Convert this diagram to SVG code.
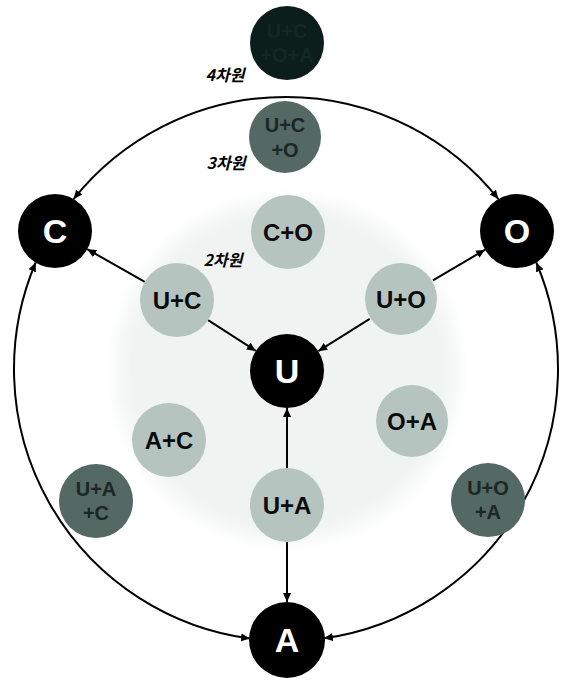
<svg xmlns="http://www.w3.org/2000/svg" width="568" height="680" viewBox="0 0 568 680">
  <defs>
    <radialGradient id="core" cx="287" cy="370" r="182" gradientUnits="userSpaceOnUse">
      <stop offset="0" stop-color="#f0f3f2"/>
      <stop offset="0.85" stop-color="#eff3f2"/>
      <stop offset="1" stop-color="#ffffff"/>
    </radialGradient>
    <marker id="arrow" viewBox="0 0 10 10" refX="10" refY="5" markerWidth="9" markerHeight="9" markerUnits="userSpaceOnUse" orient="auto-start-reverse">
      <path d="M0,0.5 L10,5 L0,9.5 Z" fill="#000"/>
    </marker>
    <style>
      .edge { fill: none; stroke: #000; stroke-width: 2; marker-end: url(#arrow); }
      .ring { fill: none; stroke: #000; stroke-width: 2; marker-start: url(#arrow); marker-end: url(#arrow); }
      .base { fill: #000; }
      .pair { fill: #b6c4c0; }
      .triple { fill: #546864; }
      .quad { fill: #0b1e1b; }
      .big { font-family: "Liberation Sans", Arial, sans-serif; font-weight: bold; font-size: 34px; fill: #fff; text-anchor: middle; }
      .lbl { font-family: "Liberation Sans", Arial, sans-serif; font-weight: bold; font-size: 24px; fill: #0a0a0a; text-anchor: middle; }
      .lbl3 { font-family: "Liberation Sans", Arial, sans-serif; font-weight: bold; font-size: 20px; fill: #1a2725; text-anchor: middle; }
      .lbl4 { font-family: "Liberation Sans", Arial, sans-serif; font-weight: bold; font-size: 20px; fill: #122824; text-anchor: middle; }
      .dim { font-family: "Noto Sans CJK KR", "Noto Sans", sans-serif; font-weight: bold; font-style: italic; font-size: 16px; fill: #000; text-anchor: middle; }
    </style>
  </defs>

  <rect width="568" height="680" fill="#ffffff"/>
  <!-- pale core region around U -->
  <circle cx="287" cy="370" r="182" fill="url(#core)"/>

  <!-- connectors -->
  <g id="connectors">
    <path class="ring" d="M73.6,199.1 A272,272 0 0 1 498.4,199.1"/>
    <path class="ring" d="M35.7,262.5 A272,272 0 0 0 250.0,638.6"/>
    <path class="ring" d="M536.3,262.5 A272,272 0 0 1 323.9,638.3"/>
    <line class="edge" x1="144.8" y1="281.8" x2="87.2" y2="249.2"/>
    <line class="edge" x1="208.1" y1="320.1" x2="255.9" y2="350.9"/>
    <line class="edge" x1="432.9" y1="280.3" x2="485.1" y2="249.7"/>
    <line class="edge" x1="369.7" y1="318.8" x2="318.3" y2="351.2"/>
    <line class="edge" x1="287" y1="468" x2="287" y2="408"/>
    <line class="edge" x1="287" y1="542" x2="287" y2="602"/>
  </g>

  <!-- dimension labels -->
  <text class="dim" x="225" y="81">4차원</text>
  <text class="dim" x="226" y="169">3차원</text>
  <text class="dim" x="223" y="266">2차원</text>

  <!-- 4D node -->
  <g id="node-ucoa">
    <circle class="quad" cx="287" cy="43" r="37"/>
    <text class="lbl4" x="287" y="38">U+C</text>
    <text class="lbl4" x="287" y="62">+O+A</text>
  </g>

  <!-- 3D nodes -->
  <g id="node-uco">
    <circle class="triple" cx="285" cy="137" r="36"/>
    <text class="lbl3" x="285" y="132">U+C</text>
    <text class="lbl3" x="285" y="157">+O</text>
  </g>
  <g id="node-uac">
    <circle class="triple" cx="96" cy="501" r="37"/>
    <text class="lbl3" x="96" y="496">U+A</text>
    <text class="lbl3" x="96" y="520">+C</text>
  </g>
  <g id="node-uoa">
    <circle class="triple" cx="488" cy="500" r="37"/>
    <text class="lbl3" x="488" y="495">U+O</text>
    <text class="lbl3" x="488" y="519">+A</text>
  </g>

  <!-- 2D nodes -->
  <g id="node-co">
    <circle class="pair" cx="288" cy="232" r="37"/>
    <text class="lbl" x="288" y="241">C+O</text>
  </g>
  <g id="node-uc">
    <circle class="pair" cx="177" cy="300" r="37"/>
    <text class="lbl" x="177" y="309">U+C</text>
  </g>
  <g id="node-uo">
    <circle class="pair" cx="401" cy="299" r="36"/>
    <text class="lbl" x="401" y="308">U+O</text>
  </g>
  <g id="node-ac">
    <circle class="pair" cx="169" cy="440" r="37"/>
    <text class="lbl" x="169" y="449">A+C</text>
  </g>
  <g id="node-oa">
    <circle class="pair" cx="412" cy="421" r="36"/>
    <text class="lbl" x="412" y="430">O+A</text>
  </g>
  <g id="node-ua">
    <circle class="pair" cx="287" cy="505" r="37"/>
    <text class="lbl" x="287" y="514">U+A</text>
  </g>

  <!-- base nodes -->
  <g id="node-c">
    <circle class="base" cx="55" cy="231" r="37"/>
    <text class="big" x="55" y="243">C</text>
  </g>
  <g id="node-o">
    <circle class="base" cx="517" cy="231" r="37"/>
    <text class="big" x="517" y="243">O</text>
  </g>
  <g id="node-u">
    <circle class="base" cx="287" cy="371" r="37"/>
    <text class="big" x="287" y="383">U</text>
  </g>
  <g id="node-a">
    <circle class="base" cx="287" cy="640" r="38"/>
    <text class="big" x="287" y="652">A</text>
  </g>
</svg>
